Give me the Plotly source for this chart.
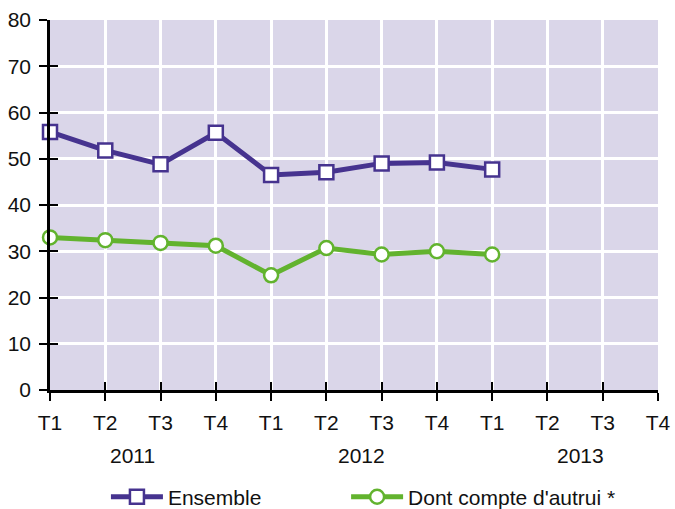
import plotly.graph_objects as go

quarters = ["T1", "T2", "T3", "T4", "T1", "T2", "T3", "T4", "T1", "T2", "T3", "T4"]
years = ["2011", "2012", "2013"]
year_pos = [1.5, 5.63, 9.6]
ensemble = [55.8, 51.8, 48.8, 55.6, 46.5, 47.1, 49.0, 49.2, 47.7]
autrui = [33.0, 32.4, 31.8, 31.2, 24.8, 30.7, 29.3, 30.0, 29.3]

purple = "#46338F"
green = "#62B32E"
xs = list(range(len(quarters)))
FS = 21

fig = go.Figure()
fig.add_trace(go.Scatter(
    x=xs[:len(ensemble)], y=ensemble, name="Ensemble", mode="lines+markers",
    line=dict(color=purple, width=5),
    marker=dict(symbol="square", size=14, color="white", line=dict(color=purple, width=2.5)),
    cliponaxis=False, legend="legend"))
fig.add_trace(go.Scatter(
    x=xs[:len(autrui)], y=autrui, name="Dont compte d'autrui *", mode="lines+markers",
    line=dict(color=green, width=5),
    marker=dict(symbol="circle", size=14, color="white", line=dict(color=green, width=2.5)),
    cliponaxis=False, legend="legend2"))

for y, p in zip(years, year_pos):
    fig.add_annotation(x=p, y=-0.176, xref="x", yref="paper", text=y, showarrow=False,
                       font=dict(size=FS, color="#111111"), xanchor="center", yanchor="middle")

leg_common = dict(orientation="h", xanchor="left", xref="paper",
                  y=-0.234, yanchor="top", yref="paper",
                  font=dict(size=FS), itemwidth=52, bgcolor="rgba(0,0,0,0)")

fig.update_layout(
    width=675, height=509,
    margin=dict(l=50, r=17, t=20, b=119, autoexpand=False),
    paper_bgcolor="white", plot_bgcolor="#DAD6E9",
    font=dict(family="Liberation Sans, Arial, sans-serif", size=FS, color="#111111"),
    showlegend=True,
    legend=dict(x=0.092, **leg_common),
    legend2=dict(x=0.487, **leg_common),
    xaxis=dict(range=[0, 11], tickvals=xs, ticktext=quarters, showgrid=True,
               gridcolor="white", gridwidth=2.5, zeroline=False, showline=True,
               linecolor="black", linewidth=2.5, ticks="outside", ticklen=8,
               tickcolor="black", tickwidth=2, tickfont=dict(size=FS),
               ticklabelstandoff=4, automargin=False),
    yaxis=dict(range=[0, 80], tickvals=list(range(0, 81, 10)), showgrid=True,
               gridcolor="white", gridwidth=2.5, zeroline=False, showline=True,
               linecolor="black", linewidth=2.5, ticks="outside", ticklen=8,
               tickcolor="black", tickwidth=2, tickfont=dict(size=FS),
               ticklabelstandoff=4, automargin=False),
    xaxis2=dict(range=[0, 11], tickvals=xs, overlaying="x", matches="x", showgrid=False,
                showticklabels=False, ticks="inside", ticklen=8, tickcolor="black",
                tickwidth=2, zeroline=False, side="bottom", anchor="y"),
    yaxis2=dict(range=[0, 80], tickvals=list(range(0, 81, 10)), overlaying="y",
                showgrid=False, showticklabels=False, ticks="inside", ticklen=8,
                tickcolor="black", tickwidth=2, zeroline=False, side="left", anchor="x"),
)
fig.add_trace(go.Scatter(x=[0], y=[0], xaxis="x2", yaxis="y2", showlegend=False,
                         mode="markers", marker=dict(opacity=0), hoverinfo="skip"))

fig.write_html("out.html", config={"displayModeBar": False},
               post_script="document.body.style.margin='0';document.body.style.overflow='hidden';")
